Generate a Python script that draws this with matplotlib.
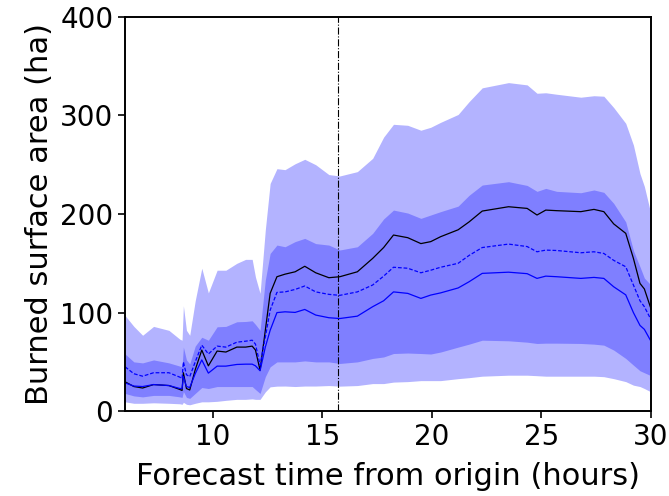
import matplotlib
matplotlib.use("Agg")
import matplotlib.pyplot as plt
import numpy as np

# forecast time (hours from origin)
hours = [6.0, 6.4, 6.8, 7.3, 8.0, 8.5, 8.6, 8.66, 8.8, 8.95, 9.2, 9.5, 9.8,
         10.2, 10.6, 11.1, 11.5, 11.8, 11.95, 12.16, 12.4, 12.62, 12.93, 13.3,
         13.76, 14.2, 14.7, 15.3, 15.8, 16.6, 17.3, 17.8, 18.25, 18.9, 19.5,
         19.95, 20.4, 21.2, 21.7, 22.3, 23.5, 24.35, 24.8, 25.2, 25.7, 26.8,
         27.4, 27.85, 28.3, 28.85, 29.2, 29.5, 29.7, 30.0]

outer_hi = [97, 86, 77, 86, 82, 73, 72, 107, 82, 77, 112, 145, 120,
            143, 143, 150, 154, 154, 136, 119.5, 184, 231, 246, 245,
            251, 255.5, 250, 240, 238.6, 243, 256.5, 278, 291, 290, 285,
            288, 293, 301, 314, 328, 333.3, 331, 322.5, 323, 321.5, 318.5,
            320, 319.5, 308, 292, 270, 241, 228, 200]
inner_hi = [58, 50, 49, 52, 49, 45.7, 45, 65, 52, 48, 66, 75, 72,
            85.6, 86, 90.7, 91, 91.7, 88, 82, 133, 160, 168.5, 166.8,
            172, 175.3, 170, 168.5, 163.5, 166.8, 180.4, 195, 204, 201, 195.6,
            199, 202.4, 208, 219, 229.4, 232.8, 229, 223, 226, 223, 221.6,
            224.4, 222, 210.8, 192, 163, 146.5, 135, 128]
mean_area = [29.8, 25, 23.5, 27, 26, 22, 21, 39, 23, 21.5, 42, 62, 46,
             61, 60, 65, 65, 66, 62, 41.6, 82, 119.5, 136.4, 139,
             141.4, 147, 140.4, 135.4, 136.4, 141.4, 155, 166, 178.7, 176, 170,
             172, 177, 184, 192, 203, 207.4, 205.7, 199, 204, 203.4, 202.4,
             204.7, 202.4, 190, 180.4, 155, 129.6, 124, 104]
dashed_area = [45, 38, 35.5, 39, 39, 34.5, 33, 50, 37, 35, 50, 67, 58,
               66, 65, 70, 71, 72, 68, 46.7, 75, 102.5, 120.5, 121,
               123.5, 127, 121, 118.5, 117.5, 121, 128, 137, 146, 145, 140.4,
               143, 146, 150, 158, 166, 169.5, 167, 161.7, 163.4, 163, 160.7,
               161.7, 160, 153, 146.5, 128, 112, 106, 93]
median_area = [28.7, 25.5, 25, 27, 26, 23, 23, 35, 25, 24, 38, 52, 38.6,
               45.7, 45.7, 47.4, 47.7, 47.7, 46, 41, 65, 82, 100, 100.8,
               100.2, 103.2, 97.5, 94.8, 94, 96.4, 106, 112, 121, 119.5, 114.4,
               117.8, 120, 125, 131.3, 139.8, 141, 139.5, 134.7, 137, 136.4, 134.7,
               135.7, 134.7, 126.2, 118, 100, 87, 83, 71]
inner_lo = [18, 15.5, 14.5, 16, 16, 14.5, 14, 20, 14, 13, 18, 24, 23,
            25, 25, 25, 25, 25, 22, 18, 35, 45, 50, 50,
            50, 51, 50, 50, 48.4, 50, 53.5, 55, 58.5, 59, 58.5,
            58, 60, 65, 68, 72, 71.4, 70, 68.7, 69, 69, 68.7,
            68, 67, 62, 53.5, 46.7, 41, 39, 36]
outer_lo = [9.5, 8, 8, 8.5, 8, 7.5, 7, 9, 7, 6.5, 8, 9.5, 9.5,
            10, 11, 12, 12, 12.5, 12, 12, 19.6, 24.7, 25.4, 25.5,
            25, 25.5, 25.5, 26, 25.4, 26, 28, 28, 29.5, 30, 31,
            31, 31, 33, 34, 35.5, 36.5, 36.5, 36, 35.5, 35.5, 35.5,
            35.5, 35, 33, 30, 26.4, 25, 23, 19.6]

now_hour = 15.7

fig = plt.figure(figsize=(6.69, 4.96), dpi=100)
ax = fig.add_axes([0.187, 0.171, 0.786, 0.795])

ax.fill_between(hours, outer_lo, outer_hi, color="#b3b3ff", lw=0)
ax.fill_between(hours, inner_lo, inner_hi, color="#7f7fff", lw=0)
ax.plot(hours, mean_area, color="black", lw=0.9)
ax.plot(hours, dashed_area, color="blue", lw=0.9, ls="--", dashes=(3, 1.5))
ax.plot(hours, median_area, color="blue", lw=0.9)
ax.axvline(now_hour, color="black", lw=0.8, ls="-.")

ax.set_xlim(6, 30)
ax.set_ylim(0, 400)
ax.set_xticks([10, 15, 20, 25, 30])
ax.set_yticks([0, 100, 200, 300, 400])
ax.tick_params(labelsize=20, width=1.2, length=5)
for s in ax.spines.values():
    s.set_linewidth(1.4)

ax.set_xlabel("Forecast time from origin (hours)", fontsize=22, labelpad=8)
ax.set_ylabel("Burned surface area (ha)", fontsize=22)

fig.savefig("out.png", dpi=100)
